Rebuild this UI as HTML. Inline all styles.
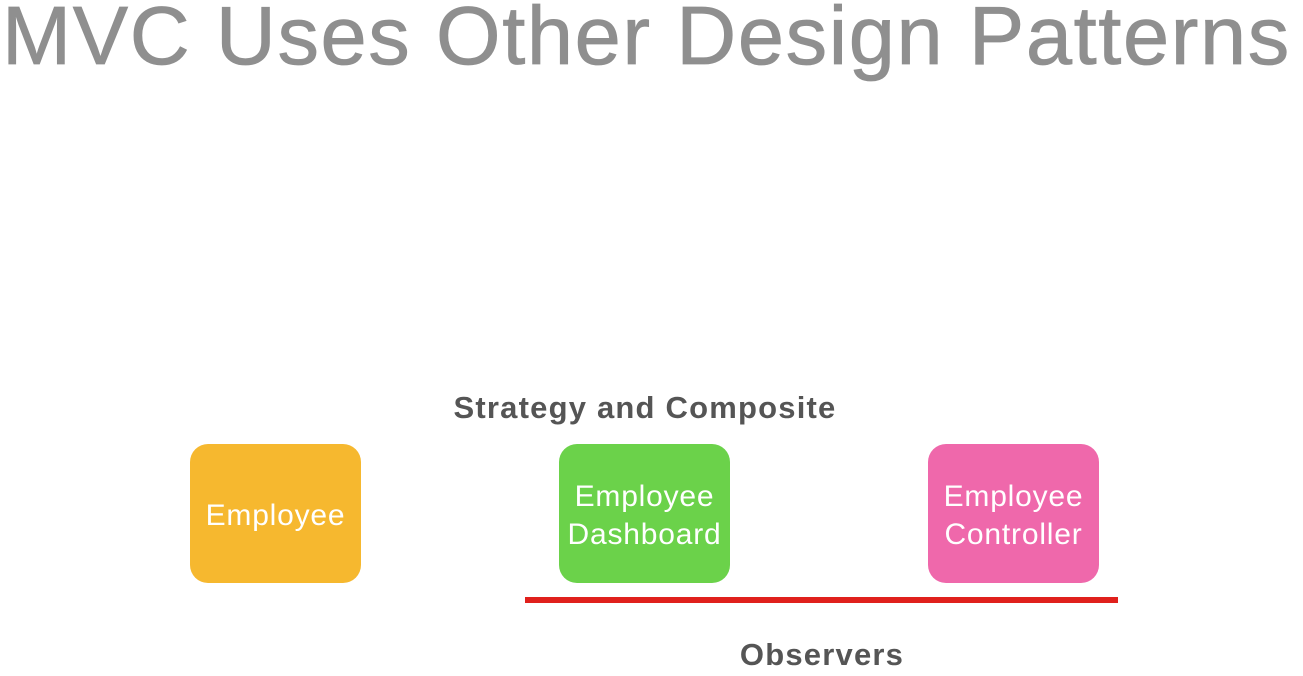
<!DOCTYPE html>
<html><head><style>
body{margin:0;width:1303px;height:676px;background:#fff;position:relative;overflow:hidden;font-family:"Liberation Sans",sans-serif}
.t{position:absolute;left:2px;top:-12px;font-size:83px;color:#8f8f8f;white-space:nowrap;letter-spacing:1.6px;-webkit-text-stroke:0.8px #8f8f8f}
.b{position:absolute;top:444px;width:171px;height:139px;border-radius:18px;color:#fff;font-size:30px;letter-spacing:0.8px;display:flex;align-items:center;justify-content:center;text-align:center;line-height:38px;padding-top:5px;box-sizing:border-box}
.l{position:absolute;font-weight:bold;font-size:31px;letter-spacing:1.2px;color:#555;white-space:nowrap;transform:translateX(-50%)}
</style></head><body>
<div class="t">MVC Uses Other Design Patterns</div>
<div class="l" style="left:645px;top:390px">Strategy and Composite</div>
<div class="b" style="left:190px;background:#f6b82f">Employee</div>
<div class="b" style="left:559px;background:#6bd24a">Employee<br>Dashboard</div>
<div class="b" style="left:928px;background:#ef68ab">Employee<br>Controller</div>
<div style="position:absolute;left:525px;top:597px;width:593px;height:6px;background:#e0201c"></div>
<div class="l" style="left:822px;top:637px">Observers</div>
</body></html>
